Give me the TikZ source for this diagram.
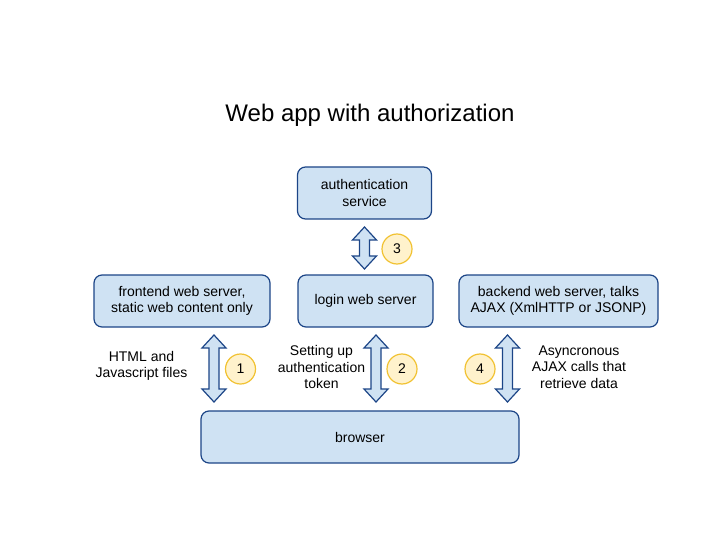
\documentclass[tikz,border=0pt]{standalone}
\usepackage{fontspec}
\setmainfont{Liberation Sans}
\usetikzlibrary{calc}

\definecolor{boxfill}{HTML}{CFE2F3}
\definecolor{boxline}{HTML}{1C4587}
\definecolor{badgefill}{HTML}{FFF2CC}
\definecolor{badgeline}{HTML}{F1C232}

\tikzset{
  box/.style={draw=boxline, fill=boxfill, line width=1.2pt, rounded corners=8pt,
    minimum height=52pt, align=center, inner sep=0pt},
  badge/.style={circle, draw=badgeline, fill=badgefill, line width=1.2pt,
    minimum size=30pt, inner sep=0pt},
  fatarrow/.style={draw=boxline, fill=boxfill, line width=1.2pt, line join=miter},
  note/.style={align=center, inner sep=0pt}
}

% fat double arrow from top point to bottom point
\newcommand{\fatarrow}[2]{%
  \draw[fatarrow] (#1) -- ++(12,13) -- ++(-7,0) -- ([xshift=5pt,yshift=13pt]#2)
    -- ++(7,0) -- (#2) -- ++(-12,-13) -- ++(7,0)
    -- ([xshift=-5pt,yshift=-13pt]#1) -- ++(-7,0) -- cycle;}

\begin{document}
\begin{tikzpicture}[x=1pt, y=-1pt, font=\fontsize{14}{16.5}\selectfont]
  \useasboundingbox (0,0) rectangle (720,540);

  \node[font=\fontsize{24}{28}\selectfont] (title) at (370,115) {Web app with authorization};

  \node[box, minimum width=134pt] (auth) at (364.5,193) {authentication\\service};
  \node[box, minimum width=176pt] (front) at (182,301) {frontend web server,\\static web content only};
  \node[box, minimum width=135pt] (login) at (365.5,301) {login web server};
  \node[box, minimum width=199pt] (back) at (558.5,301) {backend web server, talks\\AJAX (XmlHTTP or JSONP)};
  \node[box, minimum width=318pt] (browser) at (360,437) {browser};

  \coordinate (a3t) at (364.5,227);
  \coordinate (a3b) at (364.5,269);
  \coordinate (a1t) at (214,335);
  \coordinate (a1b) at (214,402);
  \coordinate (a2t) at (376,335);
  \coordinate (a2b) at (376,402);
  \coordinate (a4t) at (507.5,335);
  \coordinate (a4b) at (507.5,402);

  \fatarrow{a3t}{a3b}
  \fatarrow{a1t}{a1b}
  \fatarrow{a2t}{a2b}
  \fatarrow{a4t}{a4b}

  \node[badge] (n3) at (397,249) {3};
  \node[badge] (n1) at (240.5,369) {1};
  \node[badge] (n2) at (402,369) {2};
  \node[badge] (n4) at (480,369) {4};

  \node[note] (l1) at (141.5,366) {HTML and\\Javascript files};
  \node[note] (l2) at (321.5,367) {Setting up\\authentication\\token};
  \node[note] (l4) at (579,367) {Asyncronous\\AJAX calls that\\retrieve data};
\end{tikzpicture}
\end{document}
